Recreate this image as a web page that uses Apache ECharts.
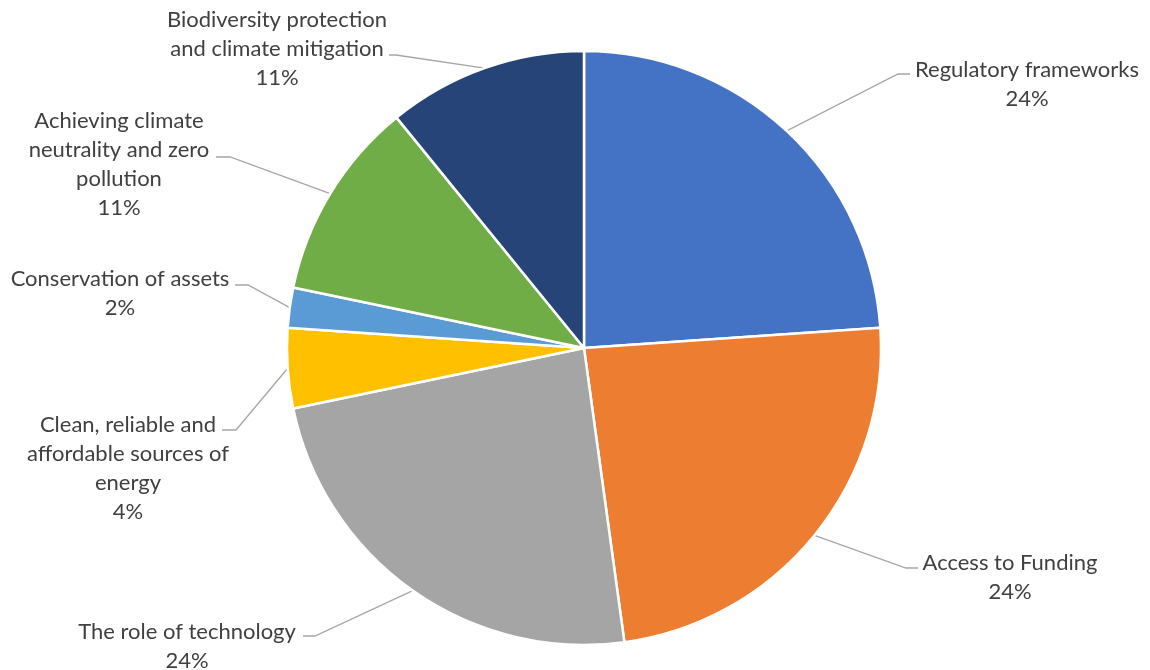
<!DOCTYPE html>
<html>
<head>
<meta charset="utf-8">
<script src="https://cdn.jsdelivr.net/npm/echarts@6/dist/echarts.min.js"></script>
<style>
  html, body { margin: 0; padding: 0; background: #ffffff; }
  #chart { width: 1150px; height: 670px; }
</style>
</head>
<body>
<div id="chart"></div>
<script>
// Slice names (with the line breaks used in their labels), clockwise from 12 o'clock
const categories = [
  'Regulatory frameworks',
  'Access to Funding',
  'The role of technology',
  'Clean, reliable and\naffordable sources of\nenergy',
  'Conservation of assets',
  'Achieving climate\nneutrality and zero\npollution',
  'Biodiversity protection\nand climate mitigation'
];
// Number of mentions per theme
const counts = [11, 11, 11, 2, 1, 5, 5];
const colors = ['#4472C4', '#ED7D31', '#A5A5A5', '#FFC000', '#5B9BD5', '#70AD47', '#264478'];

// Centre of each label block, in pixels
const labelSpots = [
  [1027, 84], [1010, 577], [187, 646], [128, 468], [120, 293], [119, 164], [277, 49]
];
// Where each leader line bends and where it meets its label: [bendX, bendY, endX, endY]
const leaderEnds = [
  [898, 74, 910, 74],
  [906, 568, 918, 568],
  [315, 636, 303, 636],
  [236, 430, 222, 430],
  [248, 285, 235, 285],
  [230, 157, 216, 157],
  [396, 55, 389, 55]
];

const pieCenter = [584, 348];
const pieRadius = 297;
const total = counts.reduce((a, b) => a + b, 0);

// Point on the rim at the middle angle of slice i (used if the library gives no line points)
function rimPoint(i) {
  let before = 0;
  for (let k = 0; k < i; k++) before += counts[k];
  const mid = (before + counts[i] / 2) / total * Math.PI * 2;
  return [pieCenter[0] + pieRadius * Math.sin(mid), pieCenter[1] - pieRadius * Math.cos(mid)];
}

const chart = echarts.init(document.getElementById('chart'), null, { renderer: 'canvas' });

chart.setOption({
  animation: false,
  backgroundColor: '#ffffff',
  series: [{
    type: 'pie',
    center: pieCenter,
    radius: [0, pieRadius],
    startAngle: 90,
    clockwise: true,
    avoidLabelOverlap: false,
    percentPrecision: 0,
    data: categories.map((name, i) => ({
      name: name,
      value: counts[i],
      itemStyle: { color: colors[i] }
    })),
    itemStyle: { borderColor: '#ffffff', borderWidth: 2.5 },
    label: {
      show: true,
      position: 'outside',
      formatter: '{b}\n{d}%',
      color: '#404040',
      fontFamily: 'Lato',
      fontSize: 22,
      lineHeight: 29,
      align: 'center'
    },
    labelLine: {
      show: true,
      length: 20,
      length2: 12,
      smooth: false,
      lineStyle: { color: '#A6A6A6', width: 1.3 }
    },
    labelLayout: function (params) {
      const i = params.dataIndex;
      const p = labelSpots[i];
      const e = leaderEnds[i];
      const start = (params.labelLinePoints && params.labelLinePoints[0]) || rimPoint(i);
      return {
        x: p[0], y: p[1], align: 'center', verticalAlign: 'middle',
        labelLinePoints: [start, [e[0], e[1]], [e[2], e[3]]]
      };
    },
    emphasis: { disabled: true }
  }]
});
</script>
</body>
</html>
